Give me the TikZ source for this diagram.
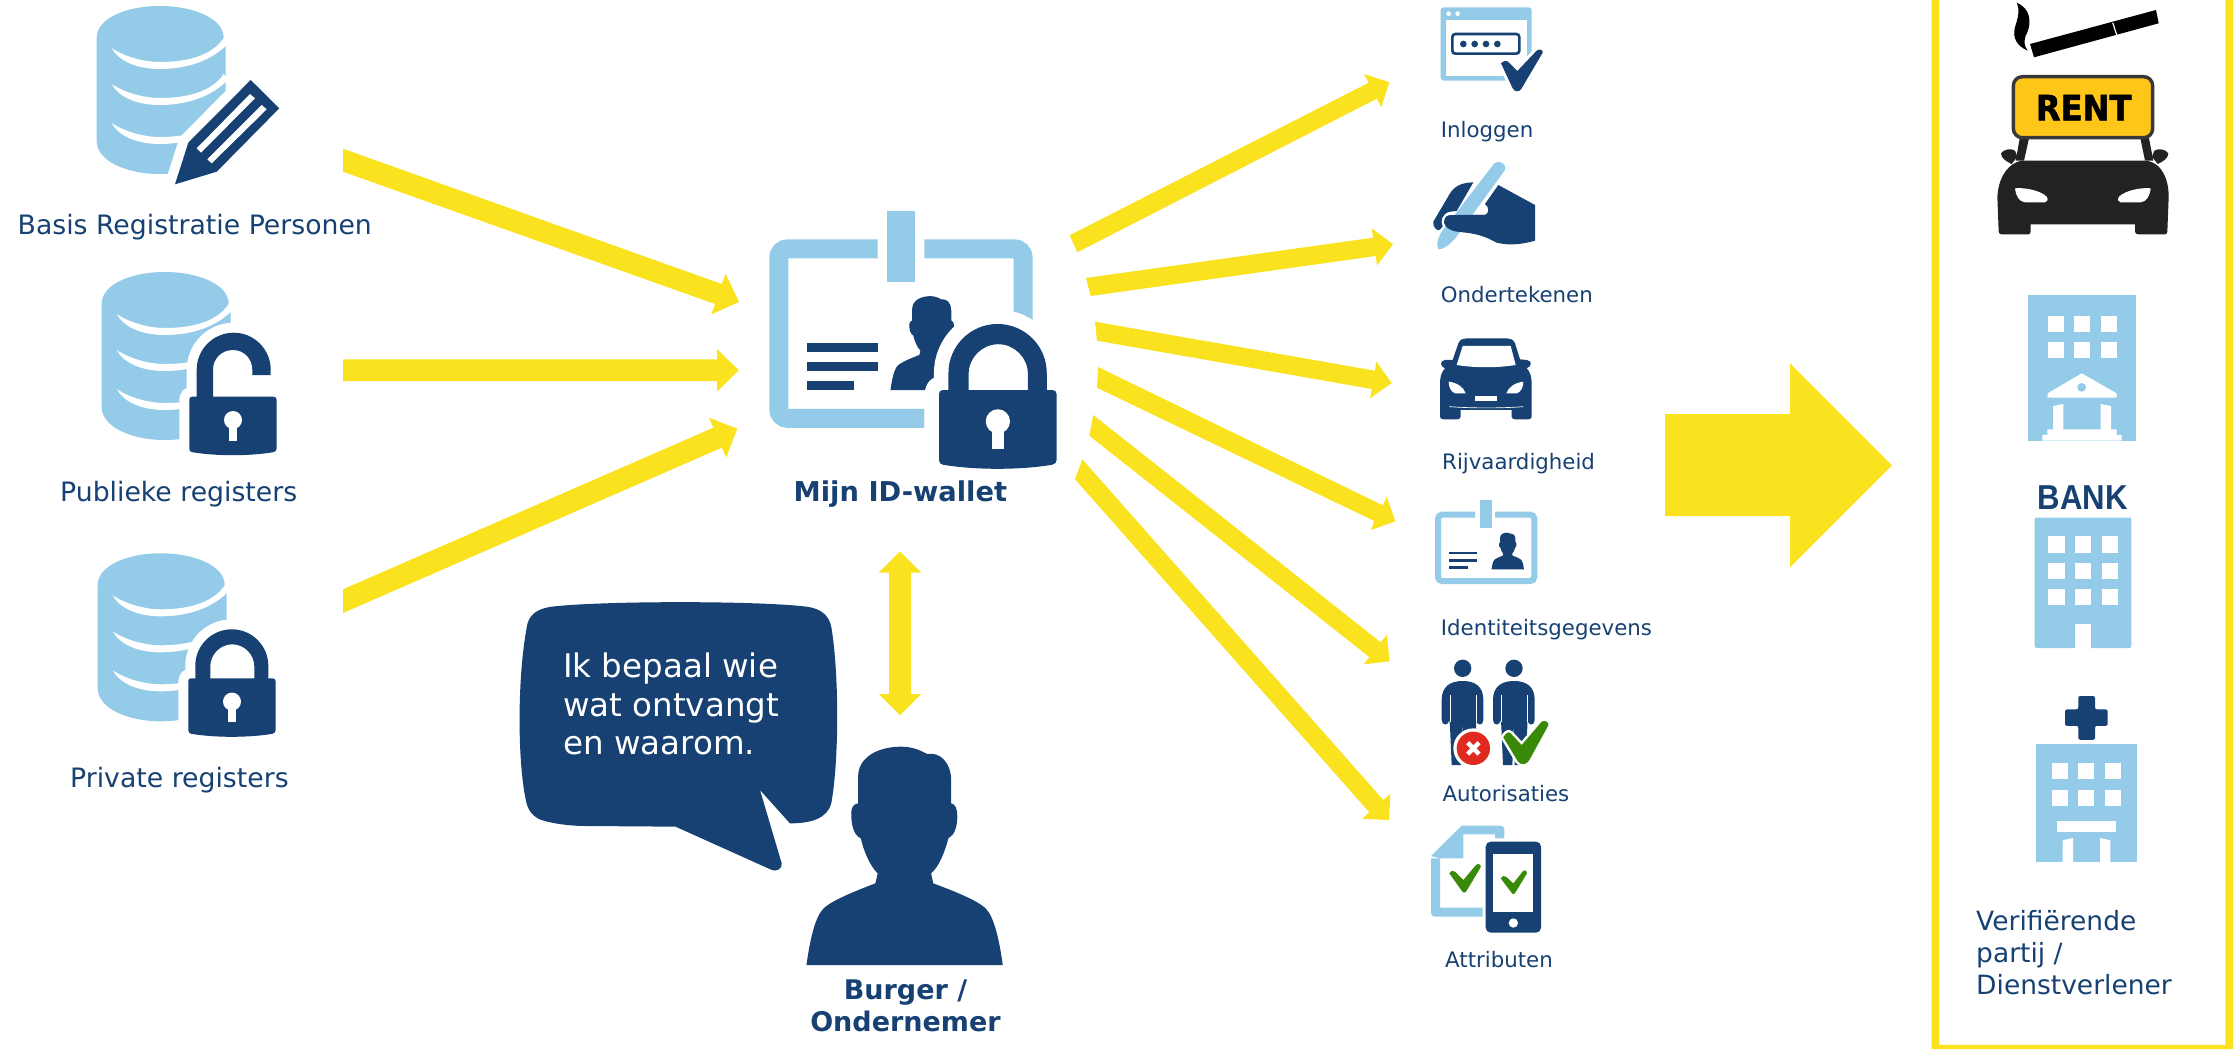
\documentclass[tikz,border=0pt]{standalone}
\usepackage{fontspec}
\setmainfont{DejaVu Sans}
\newfontfamily\bankfont{Liberation Sans}
\newfontfamily\heavyfont{DejaVu Sans}[BoldFeatures={FakeBold=1.6}]
\definecolor{lblue}{HTML}{93CBE8}
\definecolor{dblue}{HTML}{174173}
\definecolor{yel}{HTML}{FAE21E}
\definecolor{rentyel}{HTML}{FFC61A}
\definecolor{cardark}{HTML}{222222}
\definecolor{okgreen}{HTML}{3A8A0A}
\definecolor{nored}{HTML}{E02A20}
\newcommand\fsz[2]{\fontsize{#1}{#2}\selectfont}
\newcommand\myhalo[3]{\draw[white,line width=#1,line join=round] #3; \fill[#2] #3;}
% database icon, local pixel coordinates
\newcommand\mydb[2]{%
\begin{scope}[shift={(#1,#2)}]
\fill[lblue] (0,32) .. controls (0,12) and (30,0) .. (63,0) .. controls (96,0) and (127,12) .. (127,32) -- (129,40) -- (129,140) .. controls (129,155) and (96,168) .. (63,168) .. controls (30,168) and (0,155) .. (0,135) -- cycle;
\foreach \dy in {0,36,75}{
\fill[white,shift={(0,\dy)}] (15,42) .. controls (30,52) and (50,56) .. (63,56) .. controls (90,56) and (115,50) .. (127,32) -- (132,37) .. controls (115,55) and (90,63) .. (63,63) .. controls (40,63) and (22,55) .. (15,42) -- cycle;}
\end{scope}}
% lock icon
\newcommand\lockbody{(0,3) .. controls (0,1) and (1,0) .. (3,0) -- (84,0) .. controls (86,0) and (87.3,1) .. (87.3,3) -- (87.3,52) .. controls (87.3,54) and (86,55) .. (84,55.5) .. controls (60,59.5) and (27,59.5) .. (3,55.5) .. controls (1,55) and (0,54) .. (0,52) -- cycle}
\newcommand\keyhole{\fill[white] (43.7,23.3) circle[radius=9]; \fill[white] (39.3,23.3) -- (48.1,23.3) -- (48.1,44) -- (39.3,44) -- cycle;}
\newcommand\closedlock[4]{%
\begin{scope}[shift={(#1,#2)},x=#3pt,y=-#3pt]
\draw[white,line width=#4,line join=round] \lockbody;
\draw[white,line width=#4,line join=round,fill=white] (7,1) -- (7,-12.5) .. controls (7,-32.7) and (23.3,-49) .. (43.5,-49) .. controls (63.7,-49) and (80,-32.7) .. (80,-12.5) -- (80,1) -- cycle;
\fill[dblue] \lockbody;
\fill[dblue] (7,1) -- (7,-12.5) .. controls (7,-32.7) and (23.3,-49) .. (43.5,-49) .. controls (63.7,-49) and (80,-32.7) .. (80,-12.5) -- (80,1) -- (66,1) -- (66,-12) .. controls (66,-24) and (56,-34) .. (44,-34) .. controls (32,-34) and (22,-24) .. (22,-12) -- (22,1) -- cycle;
\keyhole
\end{scope}}
\newcommand\openlock[3]{%
\begin{scope}[shift={(#1,#2)},x=1pt,y=-1pt]
\draw[white,line width=#3,line join=round] \lockbody;
\draw[white,line width=#3,line join=round,fill=white] (7.4,1) -- (7.4,-27) .. controls (7.4,-47.4) and (24,-64) .. (44.4,-64) .. controls (64.8,-64) and (81.4,-47.4) .. (81.4,-27) -- (81.4,-21.7) -- (63,-21.7) -- (63,1) -- cycle;
\fill[dblue] \lockbody;
\fill[dblue] (7.4,1) -- (7.4,-27) .. controls (7.4,-47.4) and (24,-64) .. (44.4,-64) .. controls (64.8,-64) and (81.4,-47.4) .. (81.4,-27) -- (81.4,-21.7) -- (63,-21.7) -- (63,-27) .. controls (63,-38) and (55,-46.7) .. (43.5,-46.7) .. controls (32,-46.7) and (23.7,-38) .. (23.7,-27) -- (23.7,1) -- cycle;
\keyhole
\end{scope}}
% person silhouette (coordinates of a 3x crop)
\newcommand\personpath{(890,1155) .. controls (900,1080) and (915,1010) .. (940,985) .. controls (965,960) and (1040,930) .. (1090,910) -- (1097,880) .. controls (1075,860) and (1055,810) .. (1048,775) .. controls (1025,765) and (1020,730) .. (1020,700) .. controls (1020,685) and (1025,672) .. (1040,670) -- (1040,590) .. controls (1040,530) and (1100,500) .. (1165,500) .. controls (1195,500) and (1220,510) .. (1240,522) .. controls (1280,515) and (1310,550) .. (1310,600) -- (1310,670) .. controls (1322,672) and (1328,685) .. (1328,710) .. controls (1328,740) and (1320,765) .. (1302,775) .. controls (1292,815) and (1275,860) .. (1252,880) -- (1258,910) .. controls (1310,930) and (1385,960) .. (1410,985) .. controls (1435,1010) and (1450,1080) .. (1460,1155) -- cycle}
\tikzset{
 lbl/.style={anchor=base west,inner sep=0pt,text=dblue},
 big/.style={font=\fsz{26.7}{32}},
 small/.style={font=\fsz{21.3}{26}},
 bigbold/.style={font=\fsz{27}{31.7}\bfseries},
 arrowfill/.style={fill=yel},
 crop/.style={x=0.33333pt,y=-0.33333pt}
}
\begin{document}
\begin{tikzpicture}[x=1pt,y=-1pt]
\useasboundingbox (0,0) rectangle (2234,1049);
\fill[white] (0,0) rectangle (2234,1049);

%% arrows, left
\fill[arrowfill] (343,148.7) -- (721.7,284) -- (725.7,274) -- (739,302) -- (711.3,314.3) -- (715,304) -- (343,171.7) -- cycle;
\fill[arrowfill] (343,359.3) -- (717,359.3) -- (717,349) -- (738.7,370.3) -- (717,391.7) -- (717,381) -- (343,381) -- cycle;
\fill[arrowfill] (343,589.3) -- (713.3,427.7) -- (709,417.7) -- (737.3,428.7) -- (726.3,457.3) -- (721.7,447.7) -- (343,613) -- cycle;
%% arrows, right
\fill[arrowfill] (1069.7,235.3) -- (1368.7,82.7) -- (1364,74) -- (1389.3,82.3) -- (1381.3,107) -- (1376.7,98.7) -- (1077.3,252.3) -- cycle;
\fill[arrowfill] (1086,278) -- (1373,237.7) -- (1371.7,228.3) -- (1393,244.3) -- (1377,265.3) -- (1375.7,256) -- (1090.7,296) -- cycle;
\fill[arrowfill] (1095,321.7) -- (1375,370.7) -- (1376.3,361.7) -- (1391.7,383) -- (1370,398.3) -- (1371.7,389) -- (1097,340.7) -- cycle;
\fill[arrowfill] (1098,367) -- (1382.7,505.3) -- (1386.7,496.7) -- (1395.3,521.3) -- (1371,530) -- (1374.3,521) -- (1097,387.7) -- cycle;
\fill[arrowfill] (1093.3,415) -- (1380.7,642.3) -- (1386.7,635) -- (1389.7,661.3) -- (1363.7,664.3) -- (1369.3,657) -- (1089.3,435.7) -- cycle;
\fill[arrowfill] (1082.3,459.3) -- (1383.3,800) -- (1390.3,794) -- (1389,820) -- (1362.3,818.7) -- (1369.3,812.3) -- (1075,479.3) -- cycle;
%% big arrow
\fill[arrowfill] (1665,414) -- (1790,414) -- (1790,363.3) -- (1892,465.3) -- (1790,567.3) -- (1790,516) -- (1665,516) -- cycle;
%% double arrow
\fill[arrowfill] (900.1,551.4) -- (921.1,572.5) -- (910.8,572.5) -- (910.8,694) -- (921.1,694) -- (900.1,715.3) -- (878.8,694) -- (889.1,694) -- (889.1,572.5) -- (878.8,572.5) -- cycle;

%% frame at right
\fill[yel] (1931.7,0) -- (1939.3,0) -- (1939.3,1044.8) -- (2225.3,1044.8) -- (2225.3,0) -- (2233,0) -- (2233,1049) -- (1931.7,1049) -- cycle;

%% databases
\mydb{96.7}{6}
\myhalo{20pt}{dblue}{(175,184.3) -- (188.3,142.7) -- (250.7,80) -- (279.3,108.3) -- (216.7,171.7) -- cycle}
\fill[white] (196.7,148.3) -- (250,94) -- (255,98.3) -- (201,152.7) -- cycle;
\fill[white] (207.3,159.3) -- (261.7,105) -- (266.7,109.3) -- (211.7,163.3) -- cycle;
\mydb{101.7}{272}
\openlock{189.3}{396.7}{20pt}
\mydb{97.7}{553.3}
\closedlock{188.3}{678.3}{1}{20pt}

%% ID card with lock
\fill[lblue] (886.7,211.3) rectangle (915.3,281.7);
\draw[lblue,line width=19pt,rounded corners=9pt] (877.7,248.8) -- (778.8,248.8) -- (778.8,418.4) -- (924.3,418.4);
\draw[lblue,line width=19pt,rounded corners=9pt] (924.3,248.8) -- (1023.2,248.8) -- (1023.2,330);
\fill[dblue] (806.7,342.7) rectangle (877.7,352.3);
\fill[dblue] (806.7,361.7) rectangle (877.7,371);
\fill[dblue] (806.7,380.7) rectangle (854,390);
\begin{scope}[shift={(761.7,224.5)},x=0.1447pt,y=-0.1433pt]
\fill[dblue] \personpath;
\end{scope}
\closedlock{939}{390}{1.347}{29pt}

%% speech bubble and person
\begin{scope}[shift={(500,580)},x=0.34435pt,y=-0.33333pt]
\fill[dblue] (80,130) .. controls (90,95) and (120,85) .. (150,80) .. controls (300,62) and (750,62) .. (890,80) .. controls (930,85) and (955,105) .. (962,140) .. controls (985,280) and (985,540) .. (962,670) .. controls (950,715) and (905,730) .. (842,730) -- (755,630) -- (818,850) .. controls (820,865) and (805,878) .. (785,868) -- (510,740) -- (250,738) .. controls (200,738) and (150,730) .. (120,720) .. controls (95,710) and (80,690) .. (75,660) .. controls (50,540) and (50,280) .. (80,130) -- cycle;
\fill[dblue] \personpath;
\end{scope}

%% Inloggen icon
\begin{scope}[shift={(1400,0)},crop]
\fill[lblue,rounded corners=3pt] (122,22) rectangle (395,242);
\fill[white] (137,60) rectangle (382,228);
\fill[white] (146,41) circle[radius=7];
\fill[white] (173,41) circle[radius=7];
\draw[dblue,line width=2.6pt,rounded corners=3pt] (157,102) rectangle (358,161);
\foreach \xx in {190,224,258,292}{\fill[dblue] (\xx,132) circle[radius=10];}
\myhalo{6pt}{dblue}{(303,190) .. controls (310,183) and (320,180) .. (325,186) -- (352,213) -- (410,152) .. controls (418,145) and (430,150) .. (428,158) -- (365,265) .. controls (358,277) and (345,277) .. (338,265) -- cycle}
\end{scope}

%% Ondertekenen icon
\begin{scope}[shift={(1400,0)},crop]
\fill[dblue] (220,547) .. controls (190,548) and (165,555) .. (150,580) -- (100,665) .. controls (98,680) and (108,692) .. (118,690) -- (128,680) .. controls (120,665) and (125,640) .. (150,635) -- (170,633) -- cycle;
\fill[dblue] (295,555) -- (405,615) -- (405,722) .. controls (370,732) and (330,738) .. (290,728) .. controls (265,715) and (240,700) .. (170,695) .. controls (140,690) and (125,670) .. (135,655) .. controls (140,645) and (150,645) .. (170,645) -- (255,645) .. controls (268,640) and (268,620) .. (255,612) -- cycle;
\fill[lblue] (283,490) .. controls (295,478) and (322,492) .. (315,510) -- (168,712) .. controls (150,735) and (125,750) .. (115,748) .. controls (108,740) and (112,715) .. (125,695) -- cycle;
\fill[dblue] (135,655) .. controls (140,645) and (150,645) .. (170,645) -- (255,645) -- (240,700) -- (170,695) .. controls (140,690) and (125,670) .. (135,655) -- cycle;
\end{scope}

%% Rijvaardigheid icon
\begin{scope}[shift={(1400,0)},crop]
\fill[dblue] (158,1080) -- (175,1030) .. controls (180,1018) and (190,1015) .. (200,1015) -- (320,1015) .. controls (330,1015) and (340,1018) .. (345,1030) -- (360,1078) -- (380,1080) .. controls (395,1082) and (398,1098) .. (380,1105) .. controls (390,1115) and (395,1130) .. (395,1150) -- (395,1250) .. controls (395,1255) and (390,1258) .. (385,1258) -- (345,1258) .. controls (340,1258) and (335,1255) .. (335,1250) -- (335,1230) -- (182,1230) -- (182,1250) .. controls (182,1255) and (177,1258) .. (172,1258) -- (130,1258) .. controls (125,1258) and (120,1255) .. (120,1250) -- (120,1150) .. controls (120,1130) and (125,1115) .. (135,1105) .. controls (118,1098) and (120,1082) .. (135,1080) -- cycle;
\fill[white] (188,1038) -- (332,1038) -- (347,1095) .. controls (290,1104) and (226,1104) .. (170,1095) -- cycle;
\fill[white] (146,1145) .. controls (170,1148) and (190,1160) .. (197,1180) -- (165,1180) .. controls (152,1175) and (146,1160) .. (146,1145) -- cycle;
\fill[white] (370,1145) .. controls (346,1148) and (326,1160) .. (319,1180) -- (351,1180) .. controls (364,1175) and (370,1160) .. (370,1145) -- cycle;
\fill[white] (225,1187) rectangle (290,1203);
\fill[white] (148,1219) .. controls (220,1224) and (300,1224) .. (370,1219) -- (370,1221) .. controls (300,1226) and (220,1226) .. (148,1221) -- cycle;
\end{scope}

%% Identiteitsgegevens icon
\fill[lblue] (1480,500) rectangle (1492,527.7);
\draw[lblue,line width=6pt,rounded corners=4pt] (1475,514.7) -- (1438,514.7) -- (1438,581) -- (1534.3,581) -- (1534.3,514.7) -- (1495,514.7);
\fill[dblue] (1449.3,551.7) rectangle (1477.3,554);
\fill[dblue] (1449.3,559) rectangle (1477.3,562.3);
\fill[dblue] (1449.3,566.3) rectangle (1468.3,569.3);
\begin{scope}[shift={(1441,504.7)},x=0.0568pt,y=-0.0559pt]
\fill[dblue] \personpath;
\end{scope}

%% Autorisaties icon
\begin{scope}[shift={(1400,480)},crop]
\foreach \dx in {0,154}{
\begin{scope}[xshift=\dx*0.33333pt]
\fill[dblue] (188,565) circle[radius=26];
\fill[dblue] (125,660) .. controls (125,620) and (150,603) .. (188,603) .. controls (226,603) and (250,620) .. (250,660) -- (250,720) .. controls (250,738) and (230,738) .. (228,720) -- (228,740) -- (222,855) -- (190,855) -- (188,728) -- (183,855) -- (155,855) -- (150,740) -- (148,720) .. controls (146,738) and (125,738) .. (125,720) -- cycle;
\draw[white,line width=1pt] (150,645) -- (150,725);
\draw[white,line width=1pt] (228,645) -- (228,725);
\end{scope}}
\fill[white] (220,805) circle[radius=60];
\fill[nored] (220,805) circle[radius=50];
\draw[white,line width=4.5pt] (203,788) -- (237,822);
\draw[white,line width=4.5pt] (237,788) -- (203,822);
\myhalo{5pt}{okgreen}{(310,772) .. controls (315,762) and (325,752) .. (332,760) -- (365,795) -- (425,725) .. controls (435,718) and (450,728) .. (444,738) -- (388,840) .. controls (380,855) and (362,858) .. (352,842) -- cycle}
\end{scope}

%% Attributen icon
\begin{scope}[shift={(1400,480)},crop]
\fill[lblue] (93,1128) -- (185,1037) -- (300,1037) .. controls (310,1037) and (313,1043) .. (313,1050) -- (313,1075) -- (285,1075) -- (285,1063) -- (190,1063) -- (190,1135) -- (120,1135) -- (120,1283) -- (248,1283) -- (248,1310) -- (105,1310) .. controls (97,1310) and (93,1305) .. (93,1298) -- cycle;
\fill[white] (93,1128) -- (120,1135) -- (93,1135) -- cycle;
\fill[dblue,rounded corners=5pt] (257,1085) rectangle (423,1358);
\fill[white] (280,1122) rectangle (400,1297);
\fill[white] (340,1329) circle[radius=14];
\fill[okgreen] (148,1180) .. controls (150,1172) and (160,1170) .. (165,1175) -- (190,1200) -- (228,1155) .. controls (235,1148) and (245,1155) .. (242,1162) -- (200,1232) .. controls (195,1240) and (190,1240) .. (185,1232) -- cycle;
\fill[okgreen] (302,1195) .. controls (305,1188) and (313,1186) .. (318,1190) -- (340,1210) -- (370,1172) .. controls (375,1168) and (383,1172) .. (381,1180) -- (347,1236) .. controls (343,1244) and (337,1244) .. (333,1236) -- cycle;
\end{scope}

%% Cigarette
\begin{scope}
\fill[black] (2030,44) -- (2156,10) -- (2158.7,23.3) -- (2034,57.3) -- cycle;
\draw[white,line width=1.2pt] (2112.7,22.7) -- (2116.7,35);
\fill[black] (2016.7,2.7) .. controls (2030,8) and (2032,22) .. (2027,33) .. controls (2023,40) and (2024,46) .. (2027.7,50.7) .. controls (2017,46) and (2012,38) .. (2015,27) .. controls (2018,18) and (2020,10) .. (2016.7,2.7) -- cycle;
\end{scope}

%% Rent car
\begin{scope}[shift={(1900,0)},crop]
\fill[cardark] (292,590) .. controls (295,545) and (310,515) .. (335,495) .. controls (350,485) and (360,482) .. (372,482) -- (735,482) .. controls (750,482) and (765,490) .. (776,500) .. controls (795,520) and (806,550) .. (806,590) -- (802,695) .. controls (802,700) and (798,703) .. (795,703) -- (715,703) .. controls (710,703) and (705,700) .. (705,695) -- (705,673) -- (392,673) -- (392,695) .. controls (392,700) and (388,703) .. (385,703) -- (305,703) .. controls (300,703) and (296,700) .. (296,695) -- cycle;
\fill[cardark] (303,460) .. controls (310,447) and (335,445) .. (345,452) -- (352,470) -- (335,492) .. controls (320,485) and (303,475) .. (303,460) -- cycle;
\fill[cardark] (805,460) .. controls (798,447) and (773,445) .. (763,452) -- (756,470) -- (773,492) .. controls (788,485) and (805,475) .. (805,460) -- cycle;
\fill[cardark] (360,410) -- (388,410) -- (372,482) -- (347,482) -- cycle;
\fill[cardark] (720,410) -- (746,410) -- (760,482) -- (735,482) -- cycle;
\fill[white] (345,565) .. controls (370,562) and (420,570) .. (440,590) .. controls (445,598) and (443,607) .. (435,607) -- (375,607) .. controls (358,605) and (348,590) .. (345,565) -- cycle;
\fill[white] (752,565) .. controls (727,562) and (677,570) .. (657,590) .. controls (652,598) and (654,607) .. (662,607) -- (722,607) .. controls (739,605) and (749,590) .. (752,565) -- cycle;
\draw[fill=rentyel,draw=cardark!90!white,line width=3.4pt,rounded corners=9pt] (340,230) rectangle (758,413);
\node[inner sep=0pt,font=\heavyfont\fsz{35}{35}\bfseries,text=black,xscale=0.92] (rent) at (551,323) {RENT};
\end{scope}

%% Office building
\begin{scope}[shift={(1900,0)},crop]
\fill[lblue] (385,884) rectangle (707,1322);
\foreach \xx in {443,522,602}{\foreach \yy in {947,1027}{\fill[white] (\xx,\yy) rectangle ++(48,48);}}
\fill[white] (443,1180) -- (545,1120) -- (650,1180) -- (650,1193) -- (443,1193) -- cycle;
\fill[lblue] (545,1162) circle[radius=13];
\fill[white] (459,1218) -- (490,1212) -- (490,1288) -- (602,1288) -- (602,1212) -- (633,1218) -- (633,1288) -- (650,1288) -- (650,1305) -- (665,1305) -- (665,1322) -- (427,1322) -- (427,1305) -- (442,1305) -- (442,1288) -- (459,1288) -- cycle;
\end{scope}

%% Bank
\node[inner sep=0pt,anchor=base,font=\bankfont\fsz{34.6}{35}\bfseries,text=dblue,xscale=0.9] (bank) at (2082.5,509.8) {BANK};
\fill[lblue,rounded corners=2pt] (2034.7,517.5) rectangle (2131.3,648);
\foreach \xx in {2048.3,2075,2101.7}{\foreach \yy in {536.4,562.5,589}{\fill[white] (\xx,\yy) rectangle ++(16.2,16.2);}}
\fill[white] (2075,623.6) rectangle (2091.3,648.5);

%% Hospital
\fill[dblue,rounded corners=2pt] (2078.3,696) -- (2095,696) -- (2095,709.4) -- (2107.7,709.4) -- (2107.7,725.8) -- (2095,725.8) -- (2095,739.8) -- (2078.3,739.8) -- (2078.3,725.8) -- (2065,725.8) -- (2065,709.4) -- (2078.3,709.4) -- cycle;
\fill[lblue] (2035.7,744) rectangle (2137.3,861.7);
\foreach \xx in {2052,2078.4,2105}{\foreach \yy in {762.6,789.6}{\fill[white] (\xx,\yy) rectangle ++(16,16.3);}}
\fill[white] (2057.3,821.4) rectangle (2115.7,832.3);
\fill[white] (2062.7,840.3) -- (2073,838) -- (2073,862) -- (2062.7,862) -- cycle;
\fill[white] (2100,838) -- (2110.3,840.3) -- (2110.3,862) -- (2100,862) -- cycle;

%% Labels
\node[lbl,big] (bpr) at (17.5,234) {Basis Registratie Personen};
\node[lbl,big] (pub) at (60,501.7) {Publieke registers};
\node[lbl,big] (priv) at (70,787.7) {Private registers};
\node[lbl,bigbold,font=\fsz{27.3}{32}\bfseries] (wallet) at (793.5,501.7) {Mijn ID-wallet};
\node[inner sep=0pt,anchor=north,align=center,text=dblue,bigbold] (burger) at (905.5,979.5) {Burger /\\Ondernemer};
\node[inner sep=0pt,anchor=north west,align=left,text=white,font=\fsz{32.5}{38.7}] (says) at (563,652.5) {Ik bepaal wie\\wat ontvangt\\en waarom.};
\node[lbl,small] (l1) at (1440.7,137.3) {Inloggen};
\node[lbl,small] (l2) at (1440.7,302.7) {Ondertekenen};
\node[lbl,small] (l3) at (1442,469.3) {Rijvaardigheid};
\node[lbl,small] (l4) at (1440.7,635) {Identiteitsgegevens};
\node[lbl,small] (l5) at (1442.3,801) {Autorisaties};
\node[lbl,small] (l6) at (1445,967.3) {Attributen};
\node[inner sep=0pt,anchor=north west,align=left,text=dblue,font=\fsz{26.5}{32}] (verif) at (1976,910.5) {Verifiërende\\partij /\\Dienstverlener};
\end{tikzpicture}
\end{document}
